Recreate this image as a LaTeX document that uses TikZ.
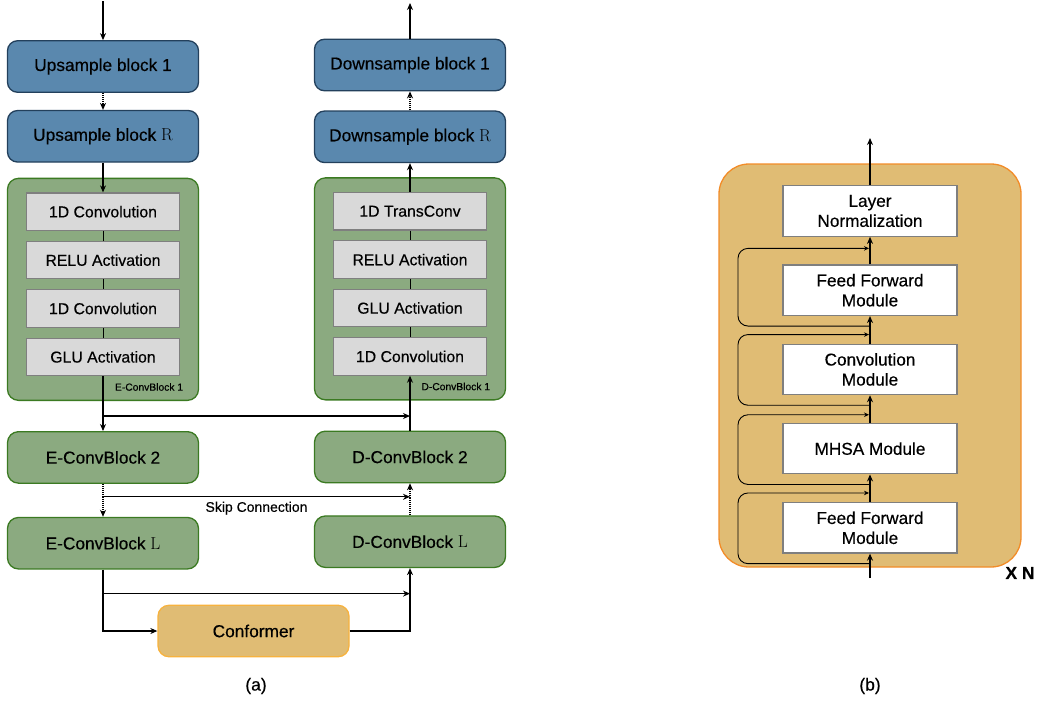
\documentclass[tikz,border=0pt]{standalone}
\usepackage[no-math]{fontspec}
\setmainfont{Liberation Sans}[FakeBold=0.35]
\usetikzlibrary{positioning,arrows.meta}
\definecolor{sampleblue}{HTML}{5A88AE}
\definecolor{sampleline}{HTML}{23405C}
\definecolor{convgreen}{HTML}{8BAA80}
\definecolor{convline}{HTML}{3B7A22}
\definecolor{layergrey}{HTML}{D9D9D9}
\definecolor{layerline}{HTML}{7F7F7F}
\definecolor{conftan}{HTML}{E0BC74}
\definecolor{confline}{HTML}{F7B23E}
\definecolor{contline}{HTML}{F28C28}

\begin{document}
\begin{tikzpicture}[x=1pt, y=-1pt, >={Stealth[length=7pt,width=6pt]},
  sample/.style={draw=sampleline, fill=sampleblue, line width=1.3pt, rounded corners=10pt, minimum width=191pt, minimum height=51.5pt, inner sep=0pt, font=\fontsize{17.3}{20}\selectfont},
  convblk/.style={draw=convline, fill=convgreen, line width=1.3pt, rounded corners=11pt, minimum width=191pt, minimum height=51.5pt, inner sep=0pt, font=\fontsize{17.3}{20}\selectfont},
  layer/.style={draw=layerline, fill=layergrey, line width=1.2pt, minimum width=153pt, minimum height=37.5pt, inner sep=0pt, font=\fontsize{15.8}{18}\selectfont},
  module/.style={draw=layerline, fill=white, line width=1.2pt, minimum width=174pt, minimum height=50.5pt, inner sep=0pt, align=center, font=\fontsize{17.2}{20}\selectfont},
  flow/.style={->, line width=1.1pt},
  res/.style={-{Stealth[length=5pt,width=4.5pt]}, line width=0.9pt, rounded corners=10pt, shorten >=1pt},
]
\useasboundingbox (0,0) rectangle (1041,702);

\node[sample] (up1) at (103,66.5) {Upsample block 1};
\node[sample, below=17pt of up1] (upR) {Upsample block $\mathrm{R}$};
\node[convblk, minimum height=222pt, below=15pt of upR] (enc1) {};
\node[layer] (e1) at ([yshift=-34pt]enc1.north) {1D Convolution};
\node[layer, below=9.7pt of e1] (e2) {RELU Activation};
\node[layer, below=9.7pt of e2] (e3) {1D Convolution};
\node[layer, below=9.7pt of e3] (e4) {GLU Activation};
\node[anchor=east, font=\fontsize{10.3}{12}\selectfont] (enc1lbl) at ([xshift=-12.5pt,yshift=14pt]enc1.south east) {E-ConvBlock 1};
\node[convblk, below=30pt of enc1] (enc2) {E-ConvBlock 2};
\node[convblk, below=33pt of enc2] (encL) {E-ConvBlock $\mathrm{L}$};

\node[sample] (down1) at (410,65) {Downsample block 1};
\node[sample, below=19pt of down1] (downR) {Downsample block $\mathrm{R}$};
\node[convblk, minimum height=222pt, below=14pt of downR] (dec1) {};
\node[layer] (d1) at ([yshift=-34pt]dec1.north) {1D TransConv};
\node[layer, below=9.7pt of d1] (d2) {RELU Activation};
\node[layer, below=9.7pt of d2] (d3) {GLU Activation};
\node[layer, below=9.7pt of d3] (d4) {1D Convolution};
\node[anchor=east, font=\fontsize{10.3}{12}\selectfont] (dec1lbl) at ([xshift=-12.5pt,yshift=14pt]dec1.south east) {D-ConvBlock 1};
\node[convblk, below=30pt of dec1] (dec2) {D-ConvBlock 2};
\node[convblk, below=32pt of dec2] (decL) {D-ConvBlock $\mathrm{L}$};

\node[draw=confline, fill=conftan, line width=1.3pt, rounded corners=11pt, minimum width=191pt, minimum height=51.5pt, inner sep=0pt, font=\fontsize{17.3}{20}\selectfont] (conf) at (253.5,631) {Conformer};
\node[font=\fontsize{17.5}{20}\selectfont] (capa) at (256,686) {(a)};

\coordinate (in) at (103,1);
\coordinate (out) at (410,3);
\coordinate (s1a) at ([yshift=-15pt]enc1.south);
\coordinate (s1b) at (s1a -| dec1);
\coordinate (s2a) at ([yshift=-13pt]enc2.south);
\coordinate (s2b) at (s2a -| dec2);
\coordinate (s3a) at ([yshift=-24pt]encL.south);
\coordinate (s3b) at (s3a -| decL);

    \draw[flow] (in) -- (up1);
    \draw[flow, densely dotted] (up1) -- (upR);
    \draw[flow] (upR) -- (e1);
    \foreach \a/\b in {e1/e2, e2/e3, e3/e4, d1/d2, d2/d3, d3/d4}
        \draw[line width=1pt] (\a) -- (\b);
    \draw[flow] (e4) -- (enc2);
    \draw[flow] (s1a) -- (s1b);
    \draw[flow, densely dotted] (enc2) -- (encL);
    \draw[flow] (s2a) -- node[below=1pt, font=\fontsize{14}{16}\selectfont] {Skip Connection} (s2b);
    \draw[flow] (encL) |- (conf);
    \draw[flow] (s3a) -- (s3b);
    \draw[flow] (conf) -| (decL);
    \draw[flow, densely dotted] (decL) -- (dec2);
    \draw[flow] (dec2) -- (d4);
    \draw[flow] (d1) -- (downR);
    \draw[flow, densely dotted] (downR) -- (down1);
    \draw[flow] (down1) -- (out);

\node[draw=contline, fill=conftan, line width=1.3pt, rounded corners=30pt, minimum width=302pt, minimum height=403pt] (cont) at (870,365.5) {};
\node[module] (ln) at (870,211) {Layer\\Normalization};
\node[module, below=27.5pt of ln] (ff2) {Feed Forward\\Module};
\node[module, below=27.5pt of ff2] (conv) {Convolution\\Module};
\node[module, below=27.5pt of conv] (mhsa) {MHSA Module};
\node[module, below=27.5pt of mhsa] (ff1) {Feed Forward\\Module};
\node[font=\bfseries\fontsize{17.4}{20}\selectfont] (xn) at (1020,573) {X N};
\node[font=\fontsize{17.5}{20}\selectfont] (capb) at (870,686) {(b)};

\coordinate (tin) at (870,578);
\coordinate (tout) at (870,138);

    \draw[flow] (tin) -- (ff1);
    \draw[flow] (ff1) -- (mhsa);
    \draw[flow] (mhsa) -- (conv);
    \draw[flow] (conv) -- (ff2);
    \draw[flow] (ff2) -- (ln);
    \draw[flow] (ln) -- (tout);
    \foreach \m/\d in {ff1/9, mhsa/8, conv/9, ff2/16}
        \draw[res] ([yshift=-10pt]\m.south) -- ++(-132pt,0) |- ([yshift=\d pt]\m.north);

\end{tikzpicture}
\end{document}
